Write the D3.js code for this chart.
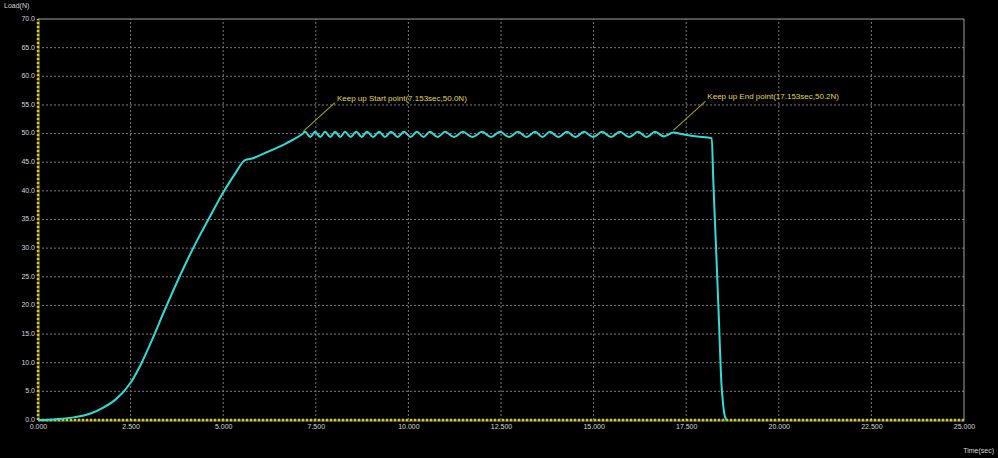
<!DOCTYPE html>
<html><head><meta charset="utf-8">
<script src="https://cdn.jsdelivr.net/npm/d3@7"></script>
<style>
html,body{margin:0;padding:0;background:#000;}
svg{display:block;}
text{font-family:"Liberation Sans",Arial,sans-serif;}
</style></head>
<body>
<svg id="chart" width="998" height="458"></svg>
<script>
// ---- data ----
const timeSec = [0,0.5,1.0,1.4,1.8,2.1,2.5,2.8,3.1,3.4,3.7,4.0,4.3,4.6,5.0,5.3,5.6,5.75,6.2,6.7,7.153,
 7.21,7.35,7.48,7.62,7.75,7.89,8.02,8.16,8.29,8.44,8.59,8.74,8.88,9.05,9.21,9.37,9.53,9.71,9.88,10.06,10.23,10.41,10.58,10.79,10.99,11.23,11.47,11.73,11.99,12.23,12.47,12.72,12.96,13.19,13.42,13.62,13.82,14.05,14.28,14.51,14.74,14.99,15.23,15.47,15.71,15.96,16.20,16.43,16.66,16.90,17.153,
 17.4,17.8,18.19,18.23,18.30,18.38,18.45,18.50,18.55,18.60];
const loadN = [0,0.15,0.5,1.1,2.3,3.6,6.5,10.0,14.3,18.9,23.3,27.5,31.4,35.0,39.7,42.8,45.4,45.6,46.8,48.3,50.0,
 50.3,49.4,50.3,49.4,50.3,49.4,50.3,49.4,50.3,49.4,50.3,49.4,50.3,49.4,50.3,49.4,50.3,49.4,50.3,49.4,50.3,49.4,50.3,49.4,50.3,49.4,50.3,49.4,50.3,49.4,50.3,49.4,50.3,49.4,50.3,49.4,50.3,49.4,50.3,49.4,50.3,49.4,50.3,49.4,50.3,49.4,50.3,49.4,50.3,49.5,50.2,
 49.9,49.5,49.2,42.0,31.0,18.0,6.5,2.5,0.5,0.0];
const yTicks = [0,5,10,15,20,25,30,35,40,45,50,55,60,65,70];
const xTicks = [0,2.5,5,7.5,10,12.5,15,17.5,20,22.5,25];
const annotations = [
  {label:"Keep up Start point(7.153sec,50.0N)", t:7.153, v:50.0},
  {label:"Keep up End point(17.153sec,50.2N)", t:17.153, v:50.2}
];
const yTitle = "Load(N)";
const xTitle = "Time(sec)";

// ---- drawing ----
const svg = d3.select("#chart");
const x = d3.scaleLinear().domain([0,25]).range([38,964]);
const y = d3.scaleLinear().domain([0,70]).range([420,19]);

svg.append("rect").attr("width",998).attr("height",458).attr("fill","#000");

// grid
const g = svg.append("g");
g.selectAll("line.hg").data(yTicks.filter(d=>d>0)).join("line")
  .attr("x1",x(0)).attr("x2",x(25)).attr("y1",d=>y(d)).attr("y2",d=>y(d))
  .attr("stroke",d=>d===70?"#a0a0a0":"#7a7a7a").attr("stroke-width",1)
  .attr("stroke-dasharray",d=>d===70?null:"2,2");
g.selectAll("line.vg").data(xTicks.filter(d=>d>0)).join("line")
  .attr("y1",y(0)).attr("y2",y(70)).attr("x1",d=>x(d)).attr("x2",d=>x(d))
  .attr("stroke",d=>d===25?"#a0a0a0":"#7a7a7a").attr("stroke-width",1)
  .attr("stroke-dasharray",d=>d===25?null:"2,2");

// axes (yellow dashed)
const yAxis = d3.axisLeft(y).tickValues(yTicks).tickFormat(d3.format(".1f")).tickSize(0).tickPadding(3);
const xAxis = d3.axisBottom(x).tickValues(xTicks).tickFormat(d3.format(".3f")).tickSize(0).tickPadding(4);
const ya = svg.append("g").attr("transform",`translate(${x(0)},0)`).call(yAxis);
const xa = svg.append("g").attr("transform",`translate(0,${y(0)})`).call(xAxis);
[ya,xa].forEach(a=>{
  a.select(".domain").attr("stroke","#5a5818").attr("stroke-width",2.5);
  a.selectAll("text").attr("fill","#d8d8d8").attr("font-size",7);
});
ya.selectAll("text").attr("dy","0.2em");
svg.append("line").attr("x1",x(0)).attr("x2",x(0)).attr("y1",y(0)).attr("y2",y(70))
  .attr("stroke","#d0c838").attr("stroke-width",2.5).attr("stroke-dasharray","2,2");
svg.append("line").attr("x1",x(0)).attr("x2",x(25)).attr("y1",y(0)).attr("y2",y(0))
  .attr("stroke","#d0c838").attr("stroke-width",2.5).attr("stroke-dasharray","2,2");

// curve
const line = d3.line().x((d,i)=>x(timeSec[i])).y((d,i)=>y(loadN[i])).curve(d3.curveMonotoneX);
svg.append("path").datum(loadN).attr("d",line)
  .attr("fill","none").attr("stroke","#2fdcd8").attr("stroke-width",2);

// annotations
annotations.forEach(a=>{
  const px = x(a.t), py = y(a.v);
  svg.append("line").attr("x1",px).attr("y1",py-2).attr("x2",px+32).attr("y2",py-31)
    .attr("stroke","#a09a20").attr("stroke-width",1.2);
  svg.append("text").attr("x",px+34).attr("y",py-33).text(a.label)
    .attr("fill","#e0d848").attr("font-size",8);
});

// titles
svg.append("text").attr("x",4).attr("y",8).text(yTitle).attr("fill","#d8d8d8").attr("font-size",7);
svg.append("text").attr("x",994).attr("y",453).attr("text-anchor","end").text(xTitle).attr("fill","#d8d8d8").attr("font-size",7);
</script>
</body></html>
